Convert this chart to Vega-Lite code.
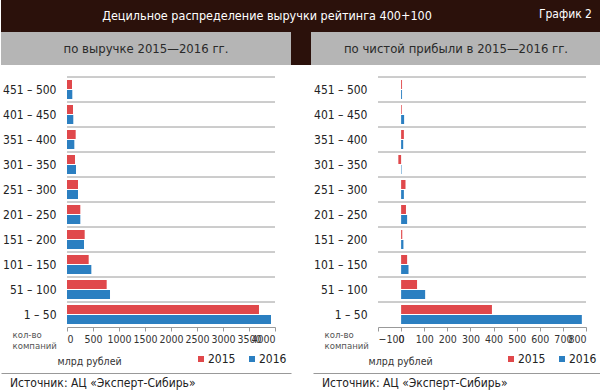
{
  "$schema": "https://vega.github.io/schema/vega-lite/v6.json",
  "padding": 0,
  "background": "white",
  "autosize": {"type": "pad"},
  "datasets": {
    "d": [
      {"g": "451 – 500", "year": "2015", "rev": 96, "profit": 4},
      {"g": "451 – 500", "year": "2016", "rev": 102, "profit": 4},
      {"g": "401 – 450", "year": "2015", "rev": 115, "profit": 3},
      {"g": "401 – 450", "year": "2016", "rev": 121, "profit": 13},
      {"g": "351 – 400", "year": "2015", "rev": 167, "profit": 12},
      {"g": "351 – 400", "year": "2016", "rev": 141, "profit": 9},
      {"g": "301 – 350", "year": "2015", "rev": 154, "profit": -12},
      {"g": "301 – 350", "year": "2016", "rev": 173, "profit": 2},
      {"g": "251 – 300", "year": "2015", "rev": 212, "profit": 19},
      {"g": "251 – 300", "year": "2016", "rev": 212, "profit": 12},
      {"g": "201 – 250", "year": "2015", "rev": 256, "profit": 21},
      {"g": "201 – 250", "year": "2016", "rev": 256, "profit": 26},
      {"g": "151 – 200", "year": "2015", "rev": 340, "profit": 5},
      {"g": "151 – 200", "year": "2016", "rev": 327, "profit": 10},
      {"g": "101 – 150", "year": "2015", "rev": 417, "profit": 26},
      {"g": "101 – 150", "year": "2016", "rev": 468, "profit": 32},
      {"g": "51 – 100", "year": "2015", "rev": 763, "profit": 69},
      {"g": "51 – 100", "year": "2016", "rev": 827, "profit": 104},
      {"g": "1 – 50", "year": "2015", "rev": 3692, "profit": 393},
      {"g": "1 – 50", "year": "2016", "rev": 3923, "profit": 782}
    ],
    "groups": [
      {"g": "451 – 500"}, {"g": "401 – 450"}, {"g": "351 – 400"}, {"g": "301 – 350"}, {"g": "251 – 300"},
      {"g": "201 – 250"}, {"g": "151 – 200"}, {"g": "101 – 150"}, {"g": "51 – 100"}, {"g": "1 – 50"}
    ]
  },
  "spacing": 11,
  "vconcat": [
    {
      "spacing": 0,
      "vconcat": [
        {
          "width": 600,
          "height": 32,
          "view": {"fill": "#2b110b", "stroke": null},
          "layer": [
            {
              "data": {"values": [{"t": "Децильное распределение выручки рейтинга 400+100"}]},
              "mark": {"type": "text", "color": "white", "fontSize": 12.5, "dx": -34, "baseline": "middle"},
              "encoding": {"text": {"field": "t"}}
            },
            {
              "data": {"values": [{"t": "График 2"}]},
              "mark": {"type": "text", "color": "white", "fontSize": 12, "align": "right", "dx": 291, "dy": -2, "baseline": "middle"},
              "encoding": {"text": {"field": "t"}}
            }
          ]
        },
        {
          "spacing": 0,
          "hconcat": [
            {
              "width": 290,
              "height": 33,
              "view": {"fill": "#b5b5b5", "stroke": null},
              "data": {"values": [{"t": "по выручке 2015—2016 гг."}]},
              "mark": {"type": "text", "color": "#2a2a2a", "fontSize": 13, "baseline": "middle"},
              "encoding": {"text": {"field": "t"}}
            },
            {
              "width": 20,
              "height": 33,
              "view": {"fill": "#2b110b", "stroke": null},
              "data": {"values": [{"t": ""}]},
              "mark": {"type": "text"},
              "encoding": {"text": {"field": "t"}}
            },
            {
              "width": 290,
              "height": 33,
              "view": {"fill": "#b5b5b5", "stroke": null},
              "data": {"values": [{"t": "по чистой прибыли в 2015—2016 гг."}]},
              "mark": {"type": "text", "color": "#2a2a2a", "fontSize": 13, "baseline": "middle"},
              "encoding": {"text": {"field": "t"}}
            }
          ]
        }
      ]
    },
    {
      "spacing": 5,
      "vconcat": [
        {
          "spacing": 20,
          "resolve": {"legend": {"color": "independent"}},
          "hconcat": [
            {
              "width": 290,
              "height": 250,
              "view": {"fill": "white", "stroke": null},
              "layer": [
                {
                  "data": {"name": "groups"},
                  "mark": {"type": "rule", "color": "#9a9a9a", "strokeWidth": 1},
                  "encoding": {
                    "y": {"field": "g", "type": "nominal", "bandPosition": 0,
                      "sort": ["451 – 500", "401 – 450", "351 – 400", "301 – 350", "251 – 300", "201 – 250", "151 – 200", "101 – 150", "51 – 100", "1 – 50"],
                      "scale": {"paddingInner": 0, "paddingOuter": 0},
                      "axis": {
                        "offset": -66, "grid": false, "ticks": false, "domain": false,
                        "labelPadding": 11, "labelFontSize": 12, "labelColor": "#222", "minExtent": 0,
                        "title": ["кол-во", "компаний"], "titleAngle": 0, "titleX": -55, "titleY": 252, "titleAlign": "left", "titleBaseline": "top",
                        "titleFontSize": 9.5, "titleFontWeight": "normal", "titleColor": "#555", "titleLineHeight": 11
                      }},
                    "x": {"datum": 0, "type": "quantitative",
                      "scale": {"domain": [0, 4000], "nice": false, "range": [66, 274]},
                      "axis": {
                        "values": [0, 500, 1000, 1500, 2000, 2500, 3000, 3500, 4000], "format": "d", "grid": false,
                        "labelOverlap": false, "labelSeparation": -20,
                        "domainColor": "#999", "tickColor": "#999", "tickSize": 4, "labelPadding": 3,
                        "labelFontSize": 10.5, "labelColor": "#333",
                        "title": "млрд рублей", "titleX": 56, "titleY": 34, "titleAlign": "left", "titleBaseline": "middle",
                        "titleFontSize": 10.5, "titleFontWeight": "normal", "titleColor": "#333"
                      }},
                    "x2": {"datum": 4000}
                  }
                },
                {
                  "data": {"name": "d"},
                  "mark": {"type": "bar"},
                  "encoding": {
                    "y": {
                      "field": "g", "type": "nominal",
                      "sort": ["451 – 500", "401 – 450", "351 – 400", "301 – 350", "251 – 300", "201 – 250", "151 – 200", "101 – 150", "51 – 100", "1 – 50"],
                      "scale": {"paddingInner": 0, "paddingOuter": 0},
                      "axis": {
                        "offset": -66, "grid": false, "ticks": false, "domain": false,
                        "labelPadding": 11, "labelFontSize": 12, "labelColor": "#222", "minExtent": 0,
                        "title": ["кол-во", "компаний"], "titleAngle": 0, "titleX": -55, "titleY": 252, "titleAlign": "left", "titleBaseline": "top",
                        "titleFontSize": 9.5, "titleFontWeight": "normal", "titleColor": "#555", "titleLineHeight": 11
                      }
                    },
                    "x": {
                      "field": "rev", "type": "quantitative",
                      "scale": {"domain": [0, 4000], "nice": false, "range": [66, 274]},
                      "axis": {
                        "values": [0, 500, 1000, 1500, 2000, 2500, 3000, 3500, 4000], "format": "d", "grid": false,
                        "labelOverlap": false, "labelSeparation": -20,
                        "domainColor": "#999", "tickColor": "#999", "tickSize": 4, "labelPadding": 3,
                        "labelFontSize": 10.5, "labelColor": "#333",
                        "title": "млрд рублей", "titleX": 56, "titleY": 34, "titleAlign": "left", "titleBaseline": "middle",
                        "titleFontSize": 10.5, "titleFontWeight": "normal", "titleColor": "#333"
                      }
                    },
                    "yOffset": {"field": "year", "type": "nominal", "scale": {"paddingInner": 0.1, "paddingOuter": 0.3}},
                    "color": {
                      "field": "year", "type": "nominal",
                      "scale": {"domain": ["2015", "2016"], "range": ["#e0484b", "#2b7fc1"]},
                      "legend": {"orient": "none", "legendX": 194, "legendY": 276, "direction": "horizontal", "title": null, "padding": 0,
                        "symbolType": "square", "symbolSize": 36, "labelFontSize": 12, "labelColor": "#222", "columnPadding": 10, "labelOffset": 1}
                    }
                  }
                }
              ]
            },
            {
              "width": 290,
              "height": 250,
              "view": {"fill": "white", "stroke": null},
              "layer": [
                {
                  "data": {"name": "groups"},
                  "mark": {"type": "rule", "color": "#9a9a9a", "strokeWidth": 1},
                  "encoding": {
                    "y": {"field": "g", "type": "nominal", "bandPosition": 0,
                      "sort": ["451 – 500", "401 – 450", "351 – 400", "301 – 350", "251 – 300", "201 – 250", "151 – 200", "101 – 150", "51 – 100", "1 – 50"],
                      "scale": {"paddingInner": 0, "paddingOuter": 0},
                      "axis": {
                        "offset": -67, "grid": false, "ticks": false, "domain": false,
                        "labelPadding": 11, "labelFontSize": 12, "labelColor": "#222", "minExtent": 0,
                        "title": ["кол-во", "компаний"], "titleAngle": 0, "titleX": -54, "titleY": 252, "titleAlign": "left", "titleBaseline": "top",
                        "titleFontSize": 9.5, "titleFontWeight": "normal", "titleColor": "#555", "titleLineHeight": 11
                      }},
                    "x": {"datum": -100, "type": "quantitative",
                      "scale": {"domain": [-100, 800], "nice": false, "range": [67, 275]},
                      "axis": {
                        "values": [-100, 0, 100, 200, 300, 400, 500, 600, 700, 800], "format": "d", "grid": false,
                        "labelOverlap": false, "labelSeparation": -20,
                        "domainColor": "#999", "tickColor": "#999", "tickSize": 4, "labelPadding": 3,
                        "labelFontSize": 10.5, "labelColor": "#333",
                        "title": "млрд рублей", "titleX": 57, "titleY": 34, "titleAlign": "left", "titleBaseline": "middle",
                        "titleFontSize": 10.5, "titleFontWeight": "normal", "titleColor": "#333"
                      }},
                    "x2": {"datum": 800}
                  }
                },
                {
                  "data": {"name": "d"},
                  "mark": {"type": "bar"},
                  "encoding": {
                    "y": {
                      "field": "g", "type": "nominal",
                      "sort": ["451 – 500", "401 – 450", "351 – 400", "301 – 350", "251 – 300", "201 – 250", "151 – 200", "101 – 150", "51 – 100", "1 – 50"],
                      "scale": {"paddingInner": 0, "paddingOuter": 0},
                      "axis": {
                        "offset": -67, "grid": false, "ticks": false, "domain": false,
                        "labelPadding": 11, "labelFontSize": 12, "labelColor": "#222", "minExtent": 0,
                        "title": ["кол-во", "компаний"], "titleAngle": 0, "titleX": -54, "titleY": 252, "titleAlign": "left", "titleBaseline": "top",
                        "titleFontSize": 9.5, "titleFontWeight": "normal", "titleColor": "#555", "titleLineHeight": 11
                      }
                    },
                    "x": {
                      "field": "profit", "type": "quantitative",
                      "scale": {"domain": [-100, 800], "nice": false, "range": [67, 275]},
                      "axis": {
                        "values": [-100, 0, 100, 200, 300, 400, 500, 600, 700, 800], "format": "d", "grid": false,
                        "labelOverlap": false, "labelSeparation": -20,
                        "domainColor": "#999", "tickColor": "#999", "tickSize": 4, "labelPadding": 3,
                        "labelFontSize": 10.5, "labelColor": "#333",
                        "title": "млрд рублей", "titleX": 57, "titleY": 34, "titleAlign": "left", "titleBaseline": "middle",
                        "titleFontSize": 10.5, "titleFontWeight": "normal", "titleColor": "#333"
                      }
                    },
                    "yOffset": {"field": "year", "type": "nominal", "scale": {"paddingInner": 0.1, "paddingOuter": 0.3}},
                    "color": {
                      "field": "year", "type": "nominal",
                      "scale": {"domain": ["2015", "2016"], "range": ["#e0484b", "#2b7fc1"]},
                      "legend": {"orient": "none", "legendX": 194, "legendY": 276, "direction": "horizontal", "title": null, "padding": 0,
                        "symbolType": "square", "symbolSize": 36, "labelFontSize": 12, "labelColor": "#222", "columnPadding": 10, "labelOffset": 1}
                    }
                  }
                }
              ]
            }
          ]
        },
        {
          "spacing": 20,
          "hconcat": [
            {
              "width": 290,
              "height": 19,
              "view": {"fill": "white", "stroke": "#999", "strokeDash": [290, 2000]},
              "data": {"values": [{"t": "Источник: АЦ «Эксперт-Сибирь»"}]},
              "mark": {"type": "text", "align": "left", "dx": -136, "baseline": "middle", "fontSize": 12, "color": "#222"},
              "encoding": {"text": {"field": "t"}}
            },
            {
              "width": 290,
              "height": 19,
              "view": {"fill": "white", "stroke": "#999", "strokeDash": [290, 2000]},
              "data": {"values": [{"t": "Источник: АЦ «Эксперт-Сибирь»"}]},
              "mark": {"type": "text", "align": "left", "dx": -136, "baseline": "middle", "fontSize": 12, "color": "#222"},
              "encoding": {"text": {"field": "t"}}
            }
          ]
        }
      ]
    }
  ],
  "config": {
    "font": "DejaVu Sans Condensed, DejaVu Sans, sans-serif",
    "view": {"stroke": null},
    "axis": {"labelOverlap": false}
  }
}
